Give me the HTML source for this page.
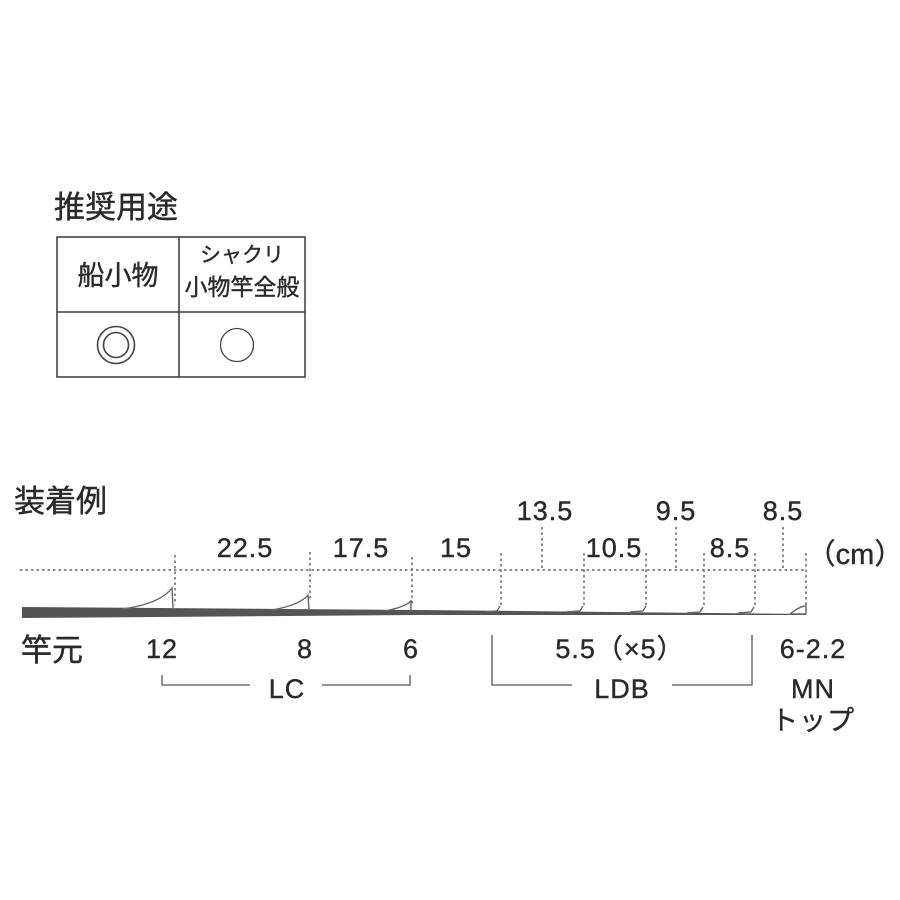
<!DOCTYPE html>
<html><head><meta charset="utf-8"><style>
html,body{margin:0;padding:0;background:#fff;}
svg{display:block;}
text{font-family:"Liberation Sans","Noto Sans CJK JP",sans-serif;fill:#2a2a2a;stroke:#2a2a2a;stroke-width:0.4;}
</style></head><body>
<svg width="900" height="900" viewBox="0 0 900 900" xmlns="http://www.w3.org/2000/svg">
<text x="54" y="218" font-size="31">推奨用途</text>
<g stroke="#444" stroke-width="1.6" fill="none">
<rect x="57" y="237" width="248" height="140"/>
<line x1="179" y1="237" x2="179" y2="377"/>
<line x1="57" y1="312" x2="305" y2="312"/>
<circle cx="116" cy="345" r="18.5"/>
<circle cx="116" cy="345" r="12.5"/>
<circle cx="237" cy="345" r="16.5" stroke-width="1.3"/>
</g>
<text x="118" y="285" font-size="27" text-anchor="middle">船小物</text>
<text x="242" y="262" font-size="21" text-anchor="middle">シャクリ</text>
<text x="242" y="295" font-size="23" text-anchor="middle">小物竿全般</text>

<text x="14" y="512" font-size="31">装着例</text>
<g stroke="#666" stroke-width="1.5" stroke-dasharray="2.5,3" fill="none">
<line x1="20" y1="570" x2="806" y2="570"/>
<line x1="175" y1="555" x2="175" y2="605"/>
<line x1="310" y1="552" x2="310" y2="600"/>
<line x1="412" y1="557" x2="412" y2="605"/>
<line x1="501" y1="553" x2="501" y2="607"/>
<line x1="542" y1="527" x2="542" y2="568"/>
<line x1="584" y1="553" x2="584" y2="607"/>
<line x1="646" y1="553" x2="646" y2="607"/>
<line x1="676" y1="527" x2="676" y2="568"/>
<line x1="704" y1="553" x2="704" y2="607"/>
<line x1="755" y1="553" x2="755" y2="607"/>
<line x1="783" y1="527" x2="783" y2="568"/>
<line x1="806" y1="553" x2="806" y2="607"/>
</g>
<polygon points="22,607 420,610 806,614 806,615 420,615 22,618" fill="#555"/>
<g stroke="#666" stroke-width="1.4" fill="none">
<path d="M122,609 Q160,604 172,588 L173,608"/>
<path d="M272,610 Q300,605 308,595 L309,610"/>
<path d="M385,611 Q405,607 411,601 L411,612"/>
<path d="M485,612 L497,611 L500,606"/>
<path d="M566,612 L580,611 L583,606"/>
<path d="M630,612 L643,611 L646,606"/>
<path d="M687,613 L700,612 L703,607"/>
<path d="M738,613 L751,612 L754,607"/>
<path d="M790,614 Q800,606 806,606 L806,614 Z"/>
</g>
<g font-size="27" text-anchor="middle" letter-spacing="1">
<text x="545" y="520">13.5</text>
<text x="676" y="520">9.5</text>
<text x="783" y="520">8.5</text>
<text x="245" y="557">22.5</text>
<text x="361" y="557">17.5</text>
<text x="456" y="557">15</text>
<text x="614" y="557">10.5</text>
<text x="730" y="557">8.5</text>
<text x="162" y="658">12</text>
<text x="305" y="658">8</text>
<text x="411" y="658">6</text>
<text x="620" y="658">5.5（×5）</text>
<text x="813" y="658">6-2.2</text>
<text x="287" y="698">LC</text>
<text x="622" y="698">LDB</text>
<text x="813" y="698">MN</text>
<text x="813" y="730">トップ</text>
</g>
<text x="855" y="564" font-size="29" text-anchor="middle">（cm）</text>
<text x="21" y="661" font-size="31">竿元</text>
<g stroke="#555" stroke-width="1.3" fill="none">
<path d="M162,675 V685 H250"/>
<path d="M322,685 H410 V675"/>
<path d="M492,635 V685 H572"/>
<path d="M672,685 H752 V635"/>
</g>
</svg>
</body></html>
